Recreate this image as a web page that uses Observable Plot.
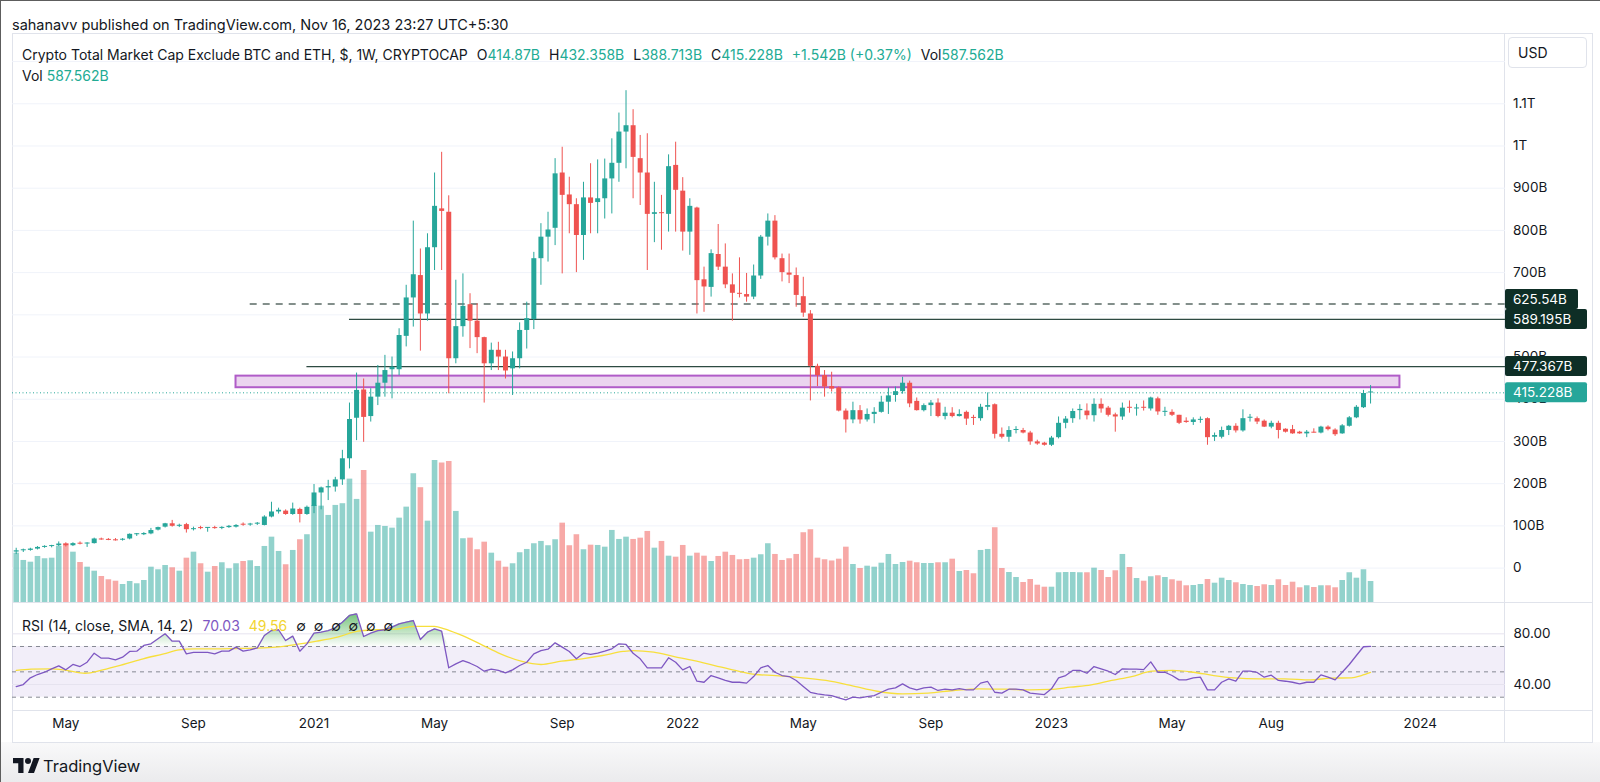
<!DOCTYPE html>
<html><head><meta charset="utf-8">
<script src="https://cdn.jsdelivr.net/npm/d3@7"></script>
<script src="https://cdn.jsdelivr.net/npm/@observablehq/plot@0.6"></script>
<style>
html,body{margin:0;padding:0;background:#fff;}
#root{position:relative;width:1600px;height:782px;overflow:hidden;background:#fff;font-family:Inter,"Noto Sans",sans-serif;color:#131722;}
.abs{position:absolute;white-space:nowrap;}
.txt{font-size:14px;line-height:18px;}
.v{color:#22ab94;}
</style></head><body><div id="root"></div>
<script>
// ---------------- data ----------------
const firstWeek = "2020-03-16"; // Monday of the first weekly candle
const opens = [38,41,42,45,49,51,53,57,53,59, 57,58,69,68,67,66,69,79,79,81, 90,97,105,99,103,91,96,94,96,94,
 96,97,104,102,104,101,121,133,135,127, 139,127,146,178,190,192,209,259,355,422, 359,405,438,470,470,549,640,693,602,759,
 851,843,496,572,624,585,546,484,516,500, 472,496,563,589,733,784,805,936,884,861, 788,877,866,875,922,959,1033,1048,970,936,
 838,842,838,954,893,796,853,683,665,743, 713,671,651,648,642,692,784,822,733,699, 693,643,602,478,456,430,427,372,351,373,
 351,364,369,393,409,418,438,395,373,385, 391,359,367,359,369,357,354,381,387,317, 310,326,326,320,299,296,291,309,343,354,
 373,372,361,388,379,363,358,381,377,381, 377,401,369,369,362,348,345,350,354,310, 310,326,336,325,355,354,348,334,343,329,
 328,322,318,322,320,334,327,318,336,356, 380,414.87];
const highs = [47,45,47,51,53,54,62,60,60,62, 60,71,71,70,70,70,81,82,84,94, 97,106,113,104,106,97,99,96,99,98,
 101,103,107,106,108,124,156,142,138,154, 142,147,198,192,208,215,279,391,462,448, 425,480,504,500,567,670,822,756,792,936,
 985,882,682,697,650,626,547,533,535,516, 512,581,630,748,816,843,970,997,926,875, 914,958,967,969,1017,1078,1131,1086,1025,1029,
 914,883,979,1009,925,875,855,713,754,814, 768,697,735,698,718,788,839,835,744,744, 711,689,610,483,468,464,429,377,393,385,
 377,380,407,427,429,452,443,403,389,397, 401,381,380,375,372,362,388,415,389,332, 335,335,331,324,303,298,312,358,359,377,
 387,389,401,401,383,367,391,396,388,396, 405,405,381,375,362,356,356,358,356,320, 334,338,342,375,364,358,351,348,348,330,
 338,324,326,330,336,337,330,340,359,385, 421,432.358];
const lows = [32,37,40,43,47,48,51,50,51,55, 49,57,66,65,64,64,67,75,77,79, 88,95,97,96,83,88,91,85,92,91,
 94,95,99,99,101,100,119,128,125,125, 107,125,129,138,160,180,196,235,302,298, 346,385,405,401,456,524,571,514,585,705,
 705,413,484,547,520,508,391,468,468,448, 409,472,519,565,670,725,764,697,792,700, 729,792,792,827,839,914,946,875,859,705,
 771,753,796,796,751,741,602,606,642,705, 662,585,640,630,636,684,763,730,678,674, 618,594,396,430,405,417,370,320,342,341,
 346,342,367,364,393,412,380,372,370,359, 356,351,356,358,338,338,348,373,306,306, 298,318,318,291,291,289,288,306,330,343,
 351,351,346,367,358,322,350,367,360,372, 372,362,359,359,340,343,338,343,291,300, 306,314,320,322,346,340,333,330,306,320,
 317,317,309,320,318,325,312,317,334,354, 378,388.713];
const closes = [41,42,45,49,51,53,57,53,58,57, 58,69,68,67,66,68,80,80,82,89, 96,105,99,101,91,93,94,95,94,96,
 99,101,102,104,106,121,133,137,127,140, 127,144,178,190,193,209,259,352,421,357, 405,438,468,476,551,640,695,602,759,857,
 845,496,572,620,585,546,484,516,500,467, 496,563,591,733,784,801,934,883,861,788, 877,864,875,922,959,1033,1048,973,936,838,
 842,840,951,895,796,857,681,666,745,713, 671,651,650,642,692,784,822,735,700,694, 646,604,478,456,429,424,372,351,373,351,
 364,369,393,408,418,438,389,373,385,391, 359,367,359,364,353,355,381,385,317,310, 326,328,320,299,294,291,308,343,353,371,
 376,361,388,377,362,358,379,379,379,379, 403,370,371,362,343,345,351,352,309,314, 326,336,325,354,357,346,334,343,326,322,
 318,318,322,320,334,328,316,337,356,381, 413.686,415.228];
const volumes = [1380,1176,1128,1288,1224,1240,1568,1644,1408,1120, 988,876,728,636,596,504,588,524,616,988,
 916,1036,972,876,1240,1408,1084,848,1008,1112, 944,1084,1148,1168,1008,1568,1828,1428,1056,1456,
 1756,1896,2716,2696,2436,2716,2764,3452,2884,3696, 1968,2156,2128,2080,2360,2668,3604,3212,2276,3976,
 3900,3948,2548,1784,1800,1476,1688,1380,1156,988, 1084,1392,1484,1644,1708,1588,1756,2220,1588,1896,
 1476,1604,1596,1548,2016,1764,1828,1764,1800,1988, 1520,1708,1296,1268,1596,1296,1380,1296,1148,1288,
 1408,1316,1196,1204,1240,1336,1644,1344,1176,1224, 1344,1952,2036,1240,1196,1162,1212,1548,1064,952,
 1016,988,1100,1344,1064,1120,1156,1112,1092,1092, 1112,1112,1212,868,896,804,1456,1484,2092,952,
 840,700,560,644,484,428,428,832,840,840, 832,832,960,896,700,888,1344,980,672,596,
 720,748,700,636,596,468,476,504,644,540, 680,616,552,504,476,448,496,476,636,476,
 568,412,468,420,468,468,412,616,832,680, 916,587.562];
const rsiValues = [38.4,40.0,45.3,47.9,49.7,52.4,54.7,51.6,55.8,54.2, 57.6,64.7,60.8,60.8,59.5,61.6,66.1,66.3,70.8,72.1,
 76.1,80.0,74.2,74.2,64.2,65.3,65.3,65.3,64.2,66.3, 66.3,69.5,66.3,67.4,68.9,78.7,82.6,83.2,74.7,78.2,
 66.3,72.1,80.5,81.3,82.6,84.7,89.2,94.5,95.8,77.9, 80.5,82.6,83.2,85.3,87.9,89.2,90.5,75.5,81.3,83.9,
 82.1,53.2,56.3,58.9,56.8,54.2,50.5,52.1,51.1,49.2, 51.6,55.0,57.6,64.2,66.8,67.9,72.9,69.5,66.1,60.3,
 64.7,63.7,64.7,66.3,68.2,72.1,71.6,64.7,60.3,53.2, 53.2,53.2,61.1,57.6,51.6,54.2,42.6,41.8,47.1,45.3,
 43.2,41.8,41.8,41.1,46.3,53.2,55.0,49.7,47.1,46.3, 43.2,38.5,33.9,32.6,31.8,31.3,29.5,27.9,30.0,29.5,
 30.5,31.3,33.9,36.3,37.4,40.5,37.4,35.8,37.4,37.9, 35.3,36.3,35.8,36.8,35.8,35.8,41.1,42.4,33.9,33.2,
 36.3,36.3,35.8,33.2,32.6,32.1,36.6,45.3,47.1,51.1, 51.1,48.9,54.2,52.4,50.5,47.9,52.4,52.1,52.1,51.8,
 57.9,49.7,49.7,47.1,43.7,43.7,45.3,45.8,35.8,35.8, 41.8,44.5,42.6,50.5,50.5,49.5,45.8,47.4,43.2,42.6,
 41.8,40.5,41.8,41.8,47.6,45.8,43.7,49.7,55.8,62.9, 69.8,70.03];
const rsiMaWeeks = [0,2.1,5,7.1,9.7,12.2,15.1,17.9,20.8,23,25.1,28,30.9,33.8,36.6,39.5,42.4,45.3,48.2,51,53.9,56.1,59,60.4,
 62.5,65.4,68.3,71.2,74,76.9,79.8,82.7,85.6,87,89.9,92.8,95.6,98.5,101.4,104.3,107.1,110,114.2,117.8,121.4,125,128.6,
 132.2,135.8,139.4,142.9,145.8,148.7,151.6,154.5,157.3,160.2,163.1,166,168.9,171.7,175.3,178.9,182.5,185.4,188.3,189.7,191];
const rsiMaValues = [51.1,52.1,52.4,51.1,48.9,51.6,55.8,60.3,64.2,67.4,68.2,68.2,68.4,68.7,69.5,71.6,74.2,77.4,82.1,83.2,83.9,85.8,85.8,83.9,
 79.5,72.1,64.2,58.4,55.8,58.4,60.3,62.9,66.1,66.8,65.5,62.1,58.9,55.0,51.1,47.9,47.1,45.8,43.2,39.2,34.7,32.6,33.2,
 35.3,36.6,36.3,35.8,36.1,37.9,39.7,43.2,46.3,50.5,51.1,49.7,47.1,45.3,44.5,44.5,43.7,45.0,45.3,47.1,49.56];
const priceGridTicks = [0,100,200,300,400,500,600,700,800,900,1000,1100,1200];
const priceLabelTicks = [0,100,200,300,400,500,600,700,800,900,1000,1100];
const priceTickLabels = ["0","100B","200B","300B","400B","500B","600B","700B","800B","900B","1T","1.1T"];
const rsiTicks = [40,80];
const rsiLevels = [70,50,30];
const timeTicks = ["2020-05-04","2020-09-07","2021-01-04","2021-05-03","2021-09-06","2022-01-03","2022-05-02","2022-09-05","2023-01-02","2023-05-01","2023-08-07","2024-01-01"];
const timeTickLabels = ["May","Sep","2021","May","Sep","2022","May","Sep","2023","May","Aug","2024"];
const dashedLevelValue = 625.54, dashedLevelStart = "2020-11-02";
const solidLevelValues = [589.195, 477.367];
const solidLevelStarts = ["2021-02-08", "2020-12-28"];
const zoneLow = 427.3, zoneHigh = 454.8, zoneStart = "2020-10-19", zoneEnd = "2023-12-12";

// ---------------- helpers ----------------
const NS = "http://www.w3.org/2000/svg";
const DAY = 864e5, WEEK = 7 * DAY;
const t0 = new Date(firstWeek).getTime();
const weekDate = i => new Date(t0 + i * WEEK);
const TEAL = "#26a69a", RED = "#ef5350", INK = "#131722";
const candles = opens.map((o, i) => ({date: weekDate(i), o, h: highs[i], l: lows[i], c: closes[i], v: volumes[i], rsi: rsiValues[i], up: closes[i] >= o}));
const rsiMa = rsiMaWeeks.map((w, k) => ({date: weekDate(w), v: rsiMaValues[k]}));
const last = candles[candles.length - 1];
const prevClose = closes[closes.length - 2];
const fmtB = v => String(+v.toFixed(3)) + "B";

const W = 1580, PANE_H = 569, AXIS_W = 87, FRAME_W = W - AXIS_W;
const xDomain = [weekDate(-0.522), weekDate(210.03)];
const xOpt = {type: "utc", domain: xDomain, range: [0, FRAME_W], axis: null};
const base = {width: W, marginLeft: 0, marginRight: AXIS_W, marginTop: 0, style: {background: "transparent", overflow: "visible", fontFamily: "Inter, 'Noto Sans', sans-serif"}};
const root = document.getElementById("root");
function place(el, left, top) { el.style.position = "absolute"; el.style.left = left + "px"; el.style.top = top + "px"; root.appendChild(el); return el; }
function div(css, html) { const d = document.createElement("div"); d.className = "abs"; d.style.cssText = css; if (html) d.innerHTML = html; root.appendChild(d); return d; }

// frame, panel, separators
div("left:0;top:0;width:1px;height:782px;background:#5d5d5d;");
div("left:0;top:0;width:1600px;height:1px;background:#5d5d5d;");
div("left:1px;top:742px;width:1599px;height:40px;background:linear-gradient(#f9f9fa,#ebebed);");
div("left:12px;top:33px;width:1579px;height:708px;border:1px solid #e0e3eb;");
div("left:1504px;top:33px;width:1px;height:709px;background:#e0e3eb;");
div("left:12px;top:602px;width:1580px;height:1px;background:#e0e3eb;");
div("left:12px;top:710px;width:1580px;height:1px;background:#e0e3eb;");

// ---------------- price pane layers ----------------
const priceY = {domain: [-81.5, 1266.5], range: [PANE_H, 0], axis: null};
place(Plot.plot({...base, height: PANE_H, marginBottom: 0, x: xOpt, y: priceY,
  marks: [Plot.ruleY(priceGridTicks, {stroke: "#f0f3fa", strokeWidth: 1})]}), 12, 33);

place(Plot.plot({...base, height: PANE_H, marginBottom: 0, x: xOpt,
  y: {domain: [0, 15920], range: [PANE_H, 0], axis: null},
  marks: [Plot.ruleX(candles, {x: "date", y1: 0, y2: "v", stroke: d => d.up ? TEAL : RED, strokeOpacity: 0.5, strokeWidth: 5.6})]}), 12, 33);

const tagValues = [dashedLevelValue, ...solidLevelValues, last.c];
function placedTags(scales) {
  const items = tagValues.map((v, k) => ({y: scales.y(v), text: fmtB(v), fill: k === tagValues.length - 1 ? TEAL : "#0e2e26"}));
  items.sort((a, b) => b.y - a.y);
  for (let k = 1; k < items.length; k++) if (items[k].y > items[k - 1].y - 20) items[k].y = items[k - 1].y - 20;
  return items;
}
function priceTags(index, scales, values, dims) {
  const g = document.createElementNS(NS, "g");
  g.setAttribute("text-anchor", "start");
  const x0 = dims.width - dims.marginRight;
  for (const it of placedTags(scales)) {
    const w = it.text.length * 9 + 10;
    const r = document.createElementNS(NS, "rect");
    r.setAttribute("x", x0); r.setAttribute("y", it.y - 10); r.setAttribute("width", w); r.setAttribute("height", 20);
    r.setAttribute("rx", 2); r.setAttribute("fill", it.fill); g.appendChild(r);
    const t = document.createElementNS(NS, "text");
    t.setAttribute("x", x0 + 8); t.setAttribute("y", it.y); t.setAttribute("dy", "0.35em");
    t.setAttribute("text-anchor", "start");
    t.setAttribute("fill", "#fff"); t.setAttribute("font-size", "13.5"); t.textContent = it.text; g.appendChild(t);
  }
  return g;
}
// axis labels fully covered by a price tag are not drawn (as on the reference)
function axisLabels(index, scales, values, dims) {
  const g = document.createElementNS(NS, "g");
  const x0 = dims.width - dims.marginRight;
  const tagYs = placedTags(scales).map(t => t.y);
  priceLabelTicks.forEach((v, k) => {
    const y = scales.y(v);
    if (tagYs.some(ty => Math.abs(ty - y) < 5)) return;
    const t = document.createElementNS(NS, "text");
    t.setAttribute("x", x0 + 8); t.setAttribute("y", y); t.setAttribute("dy", "0.35em");
    t.setAttribute("text-anchor", "start"); t.setAttribute("font-size", "13.5"); t.setAttribute("fill", INK);
    t.textContent = priceTickLabels[k]; g.appendChild(t);
  });
  return g;
}
const bodyEnd = d => Math.abs(d.c - d.o) < 2.4 ? d.o + (d.up ? 2.4 : -2.4) : d.c;
place(Plot.plot({...base, height: PANE_H, marginBottom: 0, x: xOpt, y: priceY,
  marks: [
    Plot.rect([0], {x1: new Date(zoneStart), x2: new Date(zoneEnd), y1: zoneLow, y2: zoneHigh, fill: "#9c27b0", fillOpacity: 0.2, stroke: "#b05cc8", strokeWidth: 2}),
    Plot.ruleY([dashedLevelValue], {x1: new Date(dashedLevelStart), x2: xDomain[1], stroke: "#5b6b66", strokeWidth: 1.6, strokeDasharray: "7,6"}),
    Plot.ruleY(solidLevelValues, {x1: (d, k) => new Date(solidLevelStarts[k]), x2: xDomain[1], stroke: "#2d4a42", strokeWidth: 1.4}),
    Plot.ruleY([last.c], {stroke: TEAL, strokeWidth: 1, strokeDasharray: "1,2.5"}),
    Plot.ruleX(candles, {x: "date", y1: "l", y2: "h", stroke: d => d.up ? TEAL : RED, strokeWidth: 1}),
    Plot.ruleX(candles, {x: "date", y1: "o", y2: bodyEnd, stroke: d => d.up ? TEAL : RED, strokeWidth: 5}),
    axisLabels,
    priceTags
  ]}), 12, 33);

// ---------------- RSI pane ----------------
function rsiDefs(index, scales) {
  const defs = document.createElementNS(NS, "defs");
  defs.innerHTML = `<linearGradient id="rsiGreen" gradientUnits="userSpaceOnUse" x1="0" x2="0" y1="${scales.y(100)}" y2="${scales.y(70)}">
    <stop offset="0" stop-color="#3fae49" stop-opacity="0.85"/><stop offset="1" stop-color="#4caf50" stop-opacity="0.02"/></linearGradient>`;
  return defs;
}
place(Plot.plot({...base, height: 140, marginBottom: 32, x: xOpt,
  y: {domain: [19.51, 104.71], range: [108, 0], axis: null},
  marks: [
    rsiDefs,
    Plot.rect([0], {y1: 30, y2: 70, fill: "#7e57c2", fillOpacity: 0.1}),
    Plot.ruleY(rsiTicks, {stroke: "#e6e3ef", strokeWidth: 1}),
    Plot.ruleY(rsiLevels, {stroke: "#868993", strokeWidth: 1, strokeDasharray: "4,4"}),
    Plot.areaY(candles, {x: "date", y1: 70, y2: d => Math.max(d.rsi, 70), fill: "url(#rsiGreen)"}),
    Plot.line(rsiMa, {x: "date", y: "v", stroke: "#f7df3c", strokeWidth: 1.3, curve: "monotone-x"}),
    Plot.line(candles, {x: "date", y: "rsi", stroke: "#7e57c2", strokeWidth: 1.3}),
    Plot.text(rsiTicks, {y: d => d, text: d => d.toFixed(2), frameAnchor: "right", textAnchor: "start", dx: 8, fontSize: 13.5, fill: INK}),
    Plot.text(timeTicks, {x: d => new Date(d), text: (d, k) => timeTickLabels[k], frameAnchor: "bottom", dy: 17, fontSize: 13.5, fill: INK,
      fontWeight: (d, k) => /^\d{4}$/.test(timeTickLabels[k]) ? 700 : 400})
  ]}), 12, 602);

// ---------------- texts ----------------
div("left:12px;top:14px;", `<span class="txt" style="font-size:14.5px">sahanavv published on TradingView.com, Nov 16, 2023 23:27 UTC+5:30</span>`);
const chg = last.c - prevClose, pct = chg / prevClose * 100;
const gap = '<span style="display:inline-block;width:9px"></span>';
div("left:22px;top:44px;", `<span class="txt">Crypto Total Market Cap Exclude BTC and ETH, $, 1W, CRYPTOCAP${gap}O<span class="v">${fmtB(last.o)}</span>${gap}H<span class="v">${fmtB(last.h)}</span>${gap}L<span class="v">${fmtB(last.l)}</span>${gap}C<span class="v">${fmtB(last.c)}</span>${gap}<span class="v">${chg >= 0 ? "+" : ""}${fmtB(chg)} (${chg >= 0 ? "+" : ""}${pct.toFixed(2)}%)</span>${gap}Vol<span class="v">${fmtB(last.v)}</span></span>`);
div("left:22px;top:65px;", `<span class="txt">Vol <span class="v">${fmtB(last.v)}</span></span>`);
div("left:22px;top:615px;", `<span class="txt">RSI (14, close, SMA, 14, 2)${gap}<span style="color:#7e57c2">${rsiValues[rsiValues.length-1].toFixed(2)}</span>${gap}<span style="color:#f2d531">${rsiMaValues[rsiMaValues.length-1].toFixed(2)}</span>${gap}∅&nbsp; ∅&nbsp; ∅&nbsp; ∅&nbsp; ∅&nbsp; ∅</span>`);
div("left:1508px;top:37px;width:77px;height:29px;border:1px solid #e0e3eb;border-radius:4px;background:#fff;", `<span class="txt" style="position:absolute;left:9px;top:6px">USD</span>`);
div("left:13px;top:754px;", `<svg width="27" height="15" viewBox="0 0 36 20" style="vertical-align:middle"><path d="M14 20H7V7H0V0h14v20zM28 20h-8l7.5-20h8L28 20z" fill="#131722"/><circle cx="20" cy="4" r="4" fill="#131722"/></svg><span style="font-size:16.5px;vertical-align:middle;margin-left:3px">TradingView</span>`);
</script></body></html>
